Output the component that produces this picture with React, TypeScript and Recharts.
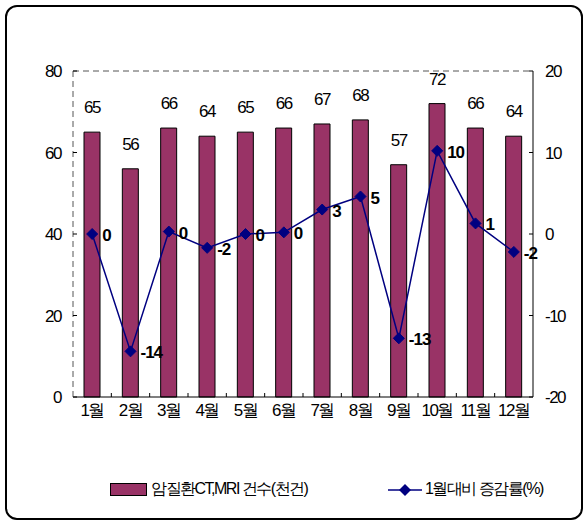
import { ComposedChart, Bar, Line, XAxis, YAxis, LabelList, ReferenceLine } from "recharts";

const months = ["1월", "2월", "3월", "4월", "5월", "6월", "7월", "8월", "9월", "10월", "11월", "12월"];
const counts = [65, 56, 66, 64, 65, 66, 67, 68, 57, 72, 66, 64];
const changes = [0, -14.4, 0.3, -1.7, 0, 0.2, 3, 4.6, -12.8, 10.2, 1.3, -2.2];
const changeLabels = ["0", "-14", "0", "-2", "0", "0", "3", "5", "-13", "10", "1", "-2"];
const leftTicks = [0, 20, 40, 60, 80];
const rightTicks = [-20, -10, 0, 10, 20];

const BAR_NAME = "암질환CT,MRI 건수(천건)";
const LINE_NAME = "1월대비 증감률(%)";

const data = months.map((m, i) => ({ month: m, count: counts[i], change: changes[i], label: changeLabels[i] }));

const FONT = "'Liberation Sans', Arial, sans-serif";
const PLUM = "#993366";
const NAVY = "#000080";

const W = 588;
const H = 525;
const M = { top: 71, right: 10, bottom: 98, left: 13 };
const LEFT_W = 60;
const RIGHT_W = 45;
const X_H = 30;
const plotLeft = M.left + LEFT_W;
const plotRight = W - M.right - RIGHT_W;
const plotBottom = H - M.bottom - X_H;
const band = (plotRight - plotLeft) / months.length;

function LeftTick(props: any) {
  const { x, y, payload } = props;
  return (
    <g>
      <line x1={plotLeft} x2={plotLeft + 4} y1={y} y2={y} stroke="#000" />
      <text x={x - 4} y={y} dy={6} textAnchor="end" fontSize={17} fontFamily={FONT} letterSpacing={-1.5} fill="#000">
        {payload.value}
      </text>
    </g>
  );
}

function RightTick(props: any) {
  const { x, y, payload } = props;
  return (
    <g>
      <line x1={plotRight - 4} x2={plotRight} y1={y} y2={y} stroke="#000" />
      <text x={x + 4} y={y} dy={6} textAnchor="start" fontSize={17} fontFamily={FONT} letterSpacing={-1.5} fill="#000">
        {payload.value}
      </text>
    </g>
  );
}

function MonthTick(props: any) {
  const { x, payload, index } = props;
  return (
    <g>
      {index < months.length - 1 && (
        <line x1={x + band / 2} x2={x + band / 2} y1={plotBottom} y2={plotBottom - 4} stroke="#000" />
      )}
      <text x={x} y={plotBottom + 19} textAnchor="middle" fontSize={17} fontFamily={FONT} letterSpacing={-1.5} fill="#000">
        {payload.value}
      </text>
    </g>
  );
}

function Diamond(props: any) {
  const { cx, cy } = props;
  if (cx == null || cy == null) return null;
  const r = 5.5;
  return <path d={`M${cx},${cy - r}L${cx + r},${cy}L${cx},${cy + r}L${cx - r},${cy}Z`} fill={NAVY} stroke={NAVY} />;
}

function ChangeLabel(props: any) {
  const { x, y, index } = props;
  return (
    <text x={x + 10} y={y} dy={7} fontSize={17} fontWeight="bold" fontFamily={FONT} letterSpacing={-1} fill="#000">
      {changeLabels[index]}
    </text>
  );
}

function CountLabel(props: any) {
  const { x, y, width, value } = props;
  return (
    <text x={x + width / 2} y={y - 19} textAnchor="middle" fontSize={17} fontFamily={FONT} letterSpacing={-1.5} fill="#000">
      {value}
    </text>
  );
}

function LegendBox() {
  return (
    <div style={{ position: "absolute", left: 0, top: 479, width: W, height: 24, fontFamily: FONT, fontSize: 16, letterSpacing: -1.5, color: "#000" }}>
      <div style={{ position: "absolute", left: 110, top: 4, width: 37, height: 13, background: PLUM, border: "1px solid #000", boxSizing: "border-box" }} />
      <span style={{ position: "absolute", left: 151, top: 0 }}>{BAR_NAME}</span>
      <svg style={{ position: "absolute", left: 388, top: 2 }} width={34} height={18}>
        <line x1={0} x2={34} y1={9} y2={9} stroke={NAVY} strokeWidth={1.5} />
        <path d="M17,3L23,9L17,15L11,9Z" fill={NAVY} />
      </svg>
      <span style={{ position: "absolute", left: 425, top: 0 }}>{LINE_NAME}</span>
    </div>
  );
}

export default function App() {
  return (
    <div style={{ position: "absolute", left: 0, top: 0, width: W, height: H, background: "#fff" }}>
      <div
        style={{
          position: "absolute", left: 5, top: 5, width: 578, height: 515,
          border: "2px solid #000", borderRadius: 12, boxSizing: "border-box",
        }}
      />
      <div style={{ position: "absolute", left: 0, top: 0 }}>
        <ComposedChart width={W} height={H} data={data} margin={M} barCategoryGap={0}>
          <XAxis
            dataKey="month"
            xAxisId="x"
            axisLine={{ stroke: "#000" }}
            tickLine={false}
            tick={<MonthTick />}
            height={X_H}
            interval={0}
          />
          <YAxis
            yAxisId="left"
            orientation="left"
            domain={[0, 80]}
            ticks={leftTicks}
            width={LEFT_W}
            axisLine={{ stroke: "#555", strokeDasharray: "6 4" }}
            tickLine={false}
            tick={<LeftTick />}
          />
          <YAxis
            yAxisId="right"
            orientation="right"
            domain={[-20, 20]}
            ticks={rightTicks}
            width={RIGHT_W}
            axisLine={{ stroke: "#000" }}
            tickLine={false}
            tick={<RightTick />}
          />
          <ReferenceLine yAxisId="left" xAxisId="x" y={80} stroke="#555" strokeDasharray="6 4" />
          <Bar xAxisId="x" yAxisId="left" dataKey="count" name={BAR_NAME} fill={PLUM} stroke="#000" strokeWidth={1} barSize={16} isAnimationActive={false}>
            <LabelList dataKey="count" content={<CountLabel />} />
          </Bar>
          <Line
            xAxisId="x"
            yAxisId="right"
            dataKey="change"
            name={LINE_NAME}
            stroke={NAVY}
            strokeWidth={1.5}
            dot={<Diamond />}
            activeDot={false}
            isAnimationActive={false}
          >
            <LabelList dataKey="change" content={<ChangeLabel />} />
          </Line>
        </ComposedChart>
      </div>
      <LegendBox />
    </div>
  );
}
